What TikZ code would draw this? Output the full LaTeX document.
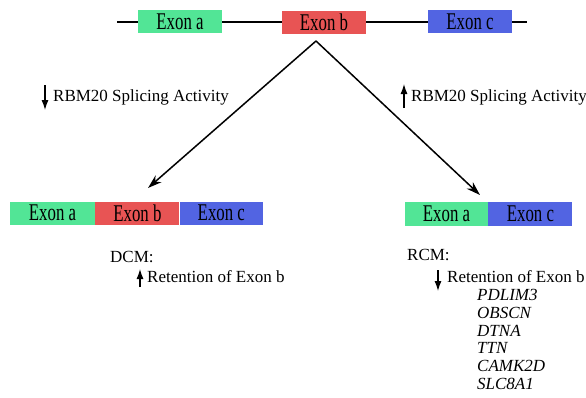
\documentclass[tikz,border=0pt]{standalone}
\usepackage{fontspec}
\setmainfont{Liberation Serif}
\newfontfamily\exonfont{Liberation Serif}[FakeStretch=0.7]
\usetikzlibrary{positioning, shapes.geometric, arrows.meta}
\definecolor{exgreen}{RGB}{82,229,150}
\definecolor{exred}{RGB}{232,84,84}
\definecolor{exblue}{RGB}{82,100,226}

\begin{document}
\begin{tikzpicture} [x=1pt, y=-1pt,
  exon/.style={rectangle, minimum height=23pt, inner sep=0pt, font=\exonfont\fontsize{24}{26}\selectfont},
  lbl/.style={anchor=west, inner sep=0pt, font=\fontsize{17}{19}\selectfont},
  gene/.style={lbl, font=\fontsize{17}{19}\selectfont\itshape},
  path/.style={-{Stealth[length=14pt, width=9pt]}, line width=1.5pt},
  updown/.style={-{Latex[length=10pt, width=7pt]}, line width=1.2pt}]
\useasboundingbox (0,0) rectangle (586,397);
% gene with three exons
\coordinate (L) at (117,22); \coordinate (R) at (527,22);
\draw[line width=2.3pt] (L) -- (R);
\node[exon, fill=exgreen, minimum width=84pt] (ea) at (180,21.5) {Exon a};
\node[exon, fill=exred, minimum width=84pt] (eb) at (324,22.5) {Exon b};
\node[exon, fill=exblue, minimum width=84pt] (ec) at (470,21.5) {Exon c};
\coordinate (apex) at (316,41);
% spliced products
\node[exon, fill=exgreen, minimum width=85pt] (la) at (52.5,213) {Exon a};
\node[exon, fill=exred, minimum width=84pt, right=0pt of la] (lb) {Exon b};
\node[exon, fill=exblue, minimum width=83pt, right=0pt of lb] (lc) {Exon c};
\node[exon, fill=exgreen, minimum width=83pt, minimum height=24pt] (ra) at (446.5,214) {Exon a};
\node[exon, fill=exblue, minimum width=84pt, minimum height=24pt, right=0pt of ra] (rc) {Exon c};
\coordinate (ltip) at (148,188); \coordinate (rtip) at (480,195);
\draw[path] (apex) -- (ltip);
\draw[path] (apex) -- (rtip);
% RBM20 activity
\node[lbl] (down) at (53,97) {RBM20 Splicing Activity};
\draw[updown] ([xshift=-8pt, yshift=12pt]down.west) -- ([xshift=-8pt, yshift=-13pt]down.west);
\node[lbl] (up) at (411,97) {RBM20 Splicing Activity};
\draw[updown] ([xshift=-7pt, yshift=-11pt]up.west) -- ([xshift=-7pt, yshift=13pt]up.west);
% DCM
\node[lbl] (dcm) at (110,257) {DCM:};
\node[lbl] (dret) at (147,277) {Retention of Exon b};
\draw[updown] ([xshift=-7pt, yshift=-10pt]dret.west) -- ([xshift=-7pt, yshift=8pt]dret.west);
% RCM
\node[lbl] (rcm) at (407,255) {RCM:};
\node[lbl] (rret) at (447,277) {Retention of Exon b};
\draw[updown] ([xshift=-9pt, yshift=7pt]rret.west) -- ([xshift=-9pt, yshift=-14pt]rret.west);
\foreach \g [count=\i] in {PDLIM3, OBSCN, DTNA, TTN, CAMK2D, SLC8A1}
  \node[gene] (g\i) at (477,{295+17.8*(\i-1)}) {\g};
\end{tikzpicture}
\end{document}
